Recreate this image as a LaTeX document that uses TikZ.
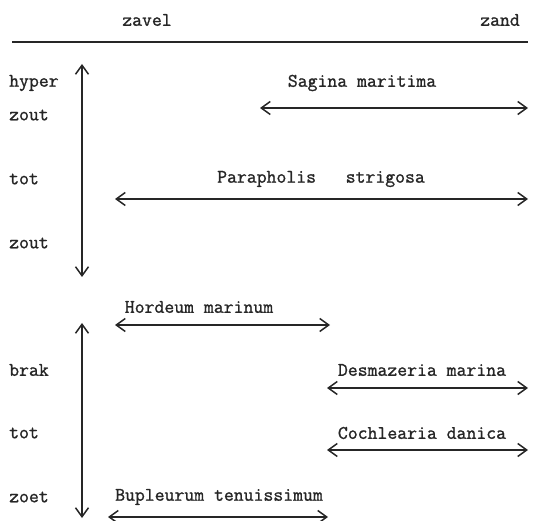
\documentclass[tikz,border=0pt]{standalone}
\usepackage{fontspec}
\newfontfamily\typewriter[FakeBold=1.2]{Latin Modern Mono}
\usetikzlibrary{arrows.meta, positioning}
\tikzset{
>={Straight Barb[length=9pt, width=13pt, line width=1.5pt]}, % open barbed arrow heads
every node/.style={font=\typewriter\fontsize{19.2}{21}\selectfont, text=black!85, inner sep=0pt}, % typewriter text
zonetext/.style={anchor=west}, % the salinity labels on the left
speciesrange/.style={<->, line width=1.5pt, draw=black!85}, % the range of a species
saltaxis/.style={<->, line width=1.5pt, draw=black!85}, % the salinity axis
}

\begin{document}
\begin{tikzpicture}[x=1pt, y=-1pt]
        \useasboundingbox (0,0) rectangle (533,521);

        % header
        \node (zavel) at (147,20) {zavel};
        \node (zand) at (500,20) {zand};
        \coordinate (ruleL) at (12,42);
        \coordinate (ruleR) at (528,42);
        \draw[line width=1.7pt, black!85] (ruleL) -- (ruleR);

        % salinity labels
        \node[zonetext] (hyper) at (9,83) {hyper};
        \node[zonetext] (zout1) at (9,115) {zout};
        \node[zonetext] (tot1) at (9,179) {tot};
        \node[zonetext] (zout2) at (9,243) {zout};
        \node[zonetext] (brak) at (9,370) {brak};
        \node[zonetext] (tot2) at (9,433) {tot};
        \node[zonetext] (zoet) at (9,497) {zoet};

        % salinity axes
        \coordinate (zoutTop) at (82,64);
        \coordinate (zoutBot) at (82,277);
        \coordinate (brakTop) at (82,323);
        \coordinate (brakBot) at (82,518);
        \draw[saltaxis] (zoutTop) -- (zoutBot);
        \draw[saltaxis] (brakTop) -- (brakBot);

        % species
        \node (sagina) at (362,83) {Sagina maritima};
        \coordinate (saginaL) at (260,108);
        \coordinate (saginaR) at (528,108);
        \draw[speciesrange] (saginaL) -- (saginaR);

        \node (parapholis) at (321,179) {Parapholis\ \ \ strigosa};
        \coordinate (parapholisL) at (115,199);
        \coordinate (parapholisR) at (528,199);
        \draw[speciesrange] (parapholisL) -- (parapholisR);

        \node (hordeum) at (199,307) {Hordeum marinum};
        \coordinate (hordeumL) at (115,325);
        \coordinate (hordeumR) at (330,325);
        \draw[speciesrange] (hordeumL) -- (hordeumR);

        \node (desmazeria) at (422,370) {Desmazeria marina};
        \coordinate (desmazeriaL) at (327,388);
        \coordinate (desmazeriaR) at (528,388);
        \draw[speciesrange] (desmazeriaL) -- (desmazeriaR);

        \node (cochlearia) at (422,433) {Cochlearia danica};
        \coordinate (cochleariaL) at (327,450);
        \coordinate (cochleariaR) at (528,450);
        \draw[speciesrange] (cochleariaL) -- (cochleariaR);

        \node (bupleurum) at (219,497) {Bupleurum tenuissimum};
        \coordinate (bupleurumL) at (108,517);
        \coordinate (bupleurumR) at (328,517);
        \draw[speciesrange] (bupleurumL) -- (bupleurumR);
\end{tikzpicture}
\end{document}
